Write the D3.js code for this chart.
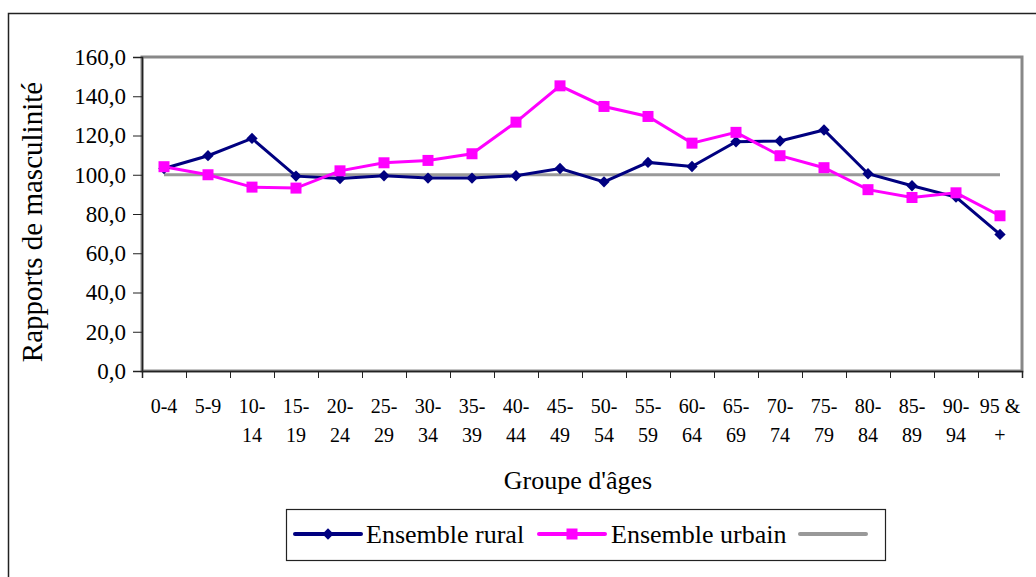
<!DOCTYPE html>
<html>
<head>
<meta charset="utf-8">
<script src="https://cdn.jsdelivr.net/npm/d3@7"></script>
<style>
  body { margin: 0; background: #fff; }
  svg text { font-family: "Liberation Serif", "DejaVu Serif", serif; fill: #000; }
</style>
</head>
<body>
<svg id="chart" width="1036" height="577"></svg>
<script>
// age groups (tick labels, "\n" = line break)
const ageGroups = ["0-4","5-9","10-\n14","15-\n19","20-\n24","25-\n29","30-\n34","35-\n39","40-\n44","45-\n49",
                   "50-\n54","55-\n59","60-\n64","65-\n69","70-\n74","75-\n79","80-\n84","85-\n89","90-\n94","95 &\n+"];
const rural = [103.2,109.7,118.5,99.3,98.1,99.5,98.3,98.3,99.5,103.2,96.4,106.3,104.2,116.8,117.2,122.8,100.5,94.4,88.6,69.6];
const urbain = [104.1,100.0,93.7,93.2,102.0,106.1,107.3,110.7,126.8,145.3,134.8,129.7,116.1,121.6,109.7,103.6,92.4,88.4,90.8,79.1];
const reference = ageGroups.map(()=>100);
const yTicks = [0,20,40,60,80,100,120,140,160];
const seriesNames = ["Ensemble rural","Ensemble urbain",""];

const FONT = "'Liberation Serif', 'DejaVu Serif', serif";

const drawChart = ()=>{
    let svg = d3.select("#chart");

    let plot = { left: 142, right: 1022, top: 57, bottom: 371 };

    // outer frame
    svg.append("rect")
    .attr("x", 8.5).attr("y", 13.5)
    .attr("width", 1200).attr("height", 800)
    .attr("fill", "none").attr("stroke", "#222").attr("stroke-width", 1.5);

    let xScale = d3.scaleBand().domain(ageGroups).range([plot.left, plot.right]);
    let xIndex = d3.scaleLinear().domain([0, ageGroups.length]).range([plot.left, plot.right]);
    let yScale = d3.scaleLinear().domain([0, 160]).range([plot.bottom, plot.top]);
    let cx = (i)=>xScale(ageGroups[i]) + xScale.bandwidth()/2;

    // plot area border
    svg.append("rect")
    .attr("x", plot.left).attr("y", plot.top)
    .attr("width", plot.right - plot.left).attr("height", plot.bottom - plot.top)
    .attr("fill", "none").attr("stroke", "#888").attr("stroke-width", 3);

    // y axis
    let yAxis = d3.axisLeft(yScale).tickValues(yTicks)
    .tickFormat((d)=>d3.format(".1f")(d).replace(".", ","))
    .tickSize(9).tickPadding(7);
    let gy = svg.append("g").attr("transform", "translate(" + plot.left + ",0)").call(yAxis)
    .attr("font-family", FONT);
    gy.select(".domain").attr("stroke", "#222").attr("stroke-width", 1.5);
    gy.selectAll(".tick line").attr("stroke", "#222");
    gy.selectAll("text").attr("font-size", "23px").attr("font-family", FONT).attr("fill", "#000");

    // x axis ticks at band boundaries
    let xTickAxis = d3.axisBottom(xIndex).tickValues(d3.range(0, ageGroups.length + 1))
    .tickFormat("").tickSize(7);
    let gx = svg.append("g").attr("transform", "translate(0," + plot.bottom + ")").call(xTickAxis);
    gx.select(".domain").attr("stroke", "#222").attr("stroke-width", 1.5);
    gx.selectAll(".tick line").attr("stroke", "#222");

    // x labels
    let xLabelAxis = d3.axisBottom(xScale).tickSize(0).tickPadding(0).tickFormat("");
    let gl = svg.append("g").attr("transform", "translate(0," + plot.bottom + ")").call(xLabelAxis)
    .attr("font-family", FONT);
    gl.select(".domain").remove();
    gl.selectAll(".tick").each(function(d){
        let lines = d.split("\n");
        let t = d3.select(this).append("text")
        .attr("text-anchor", "middle")
        .attr("font-size", "20px")
        .attr("font-family", FONT)
        .attr("fill", "#000");
        lines.forEach((ln, i)=>{
            t.append("tspan").attr("x", 0).attr("y", 42 + i*29).text(ln);
        });
    });

    // axis titles
    svg.append("text")
    .attr("x", 578).attr("y", 489)
    .attr("text-anchor", "middle")
    .attr("font-family", FONT)
    .attr("font-size", "26px")
    .text("Groupe d'âges");

    svg.append("text")
    .attr("transform", "translate(42,222) rotate(-90)")
    .attr("text-anchor", "middle")
    .attr("font-family", FONT)
    .attr("font-size", "29px")
    .text("Rapports de masculinité");

    let line = d3.line()
    .x((d, i)=>cx(i))
    .y((d)=>yScale(d));

    // lines
    svg.append("path").datum(reference)
    .attr("d", line).attr("fill", "none").attr("stroke", "#999").attr("stroke-width", 3);

    svg.append("path").datum(rural)
    .attr("d", line).attr("fill", "none").attr("stroke", "#000080").attr("stroke-width", 3);

    svg.append("path").datum(urbain)
    .attr("d", line).attr("fill", "none").attr("stroke", "#ff00ff").attr("stroke-width", 3);

    // markers
    let diamond = d3.symbol().type(d3.symbolSquare).size(64);
    let square = d3.symbol().type(d3.symbolSquare).size(121);

    svg.selectAll(".mk-rural").data(rural).enter().append("path")
    .attr("class", "mk-rural")
    .attr("d", diamond)
    .attr("transform", (d, i)=>"translate(" + cx(i) + "," + yScale(d) + ") rotate(45)")
    .attr("fill", "#000080");

    svg.selectAll(".mk-urbain").data(urbain).enter().append("path")
    .attr("class", "mk-urbain")
    .attr("d", square)
    .attr("transform", (d, i)=>"translate(" + cx(i) + "," + yScale(d) + ")")
    .attr("fill", "#ff00ff");

    // legend
    let lg = svg.append("g");
    lg.append("rect")
    .attr("x", 286.5).attr("y", 509.5).attr("width", 599).attr("height", 51)
    .attr("fill", "#fff").attr("stroke", "#222").attr("stroke-width", 1.2);

    let items = [
        { x1: 295, x2: 361, tx: 366, color: "#000080", marker: "diamond", name: seriesNames[0] },
        { x1: 539, x2: 605, tx: 611, color: "#ff00ff", marker: "square", name: seriesNames[1] },
        { x1: 800, x2: 866, tx: 870, color: "#999", marker: null, name: seriesNames[2] }
    ];
    items.forEach((it)=>{
        lg.append("line")
        .attr("x1", it.x1).attr("x2", it.x2).attr("y1", 534).attr("y2", 534)
        .attr("stroke", it.color).attr("stroke-width", 4).attr("stroke-linecap", "round");
        let mx = (it.x1 + it.x2)/2;
        if (it.marker === "diamond"){
            lg.append("path").attr("d", diamond)
            .attr("transform", "translate(" + mx + ",534) rotate(45)").attr("fill", it.color);
        } else if (it.marker === "square"){
            lg.append("path").attr("d", square)
            .attr("transform", "translate(" + mx + ",534)").attr("fill", it.color);
        }
        lg.append("text")
        .attr("x", it.tx).attr("y", 543)
        .attr("font-family", FONT)
        .attr("font-size", "26px")
        .text(it.name);
    });
}

window.onload = function(){
    drawChart();
}
</script>
</body>
</html>
